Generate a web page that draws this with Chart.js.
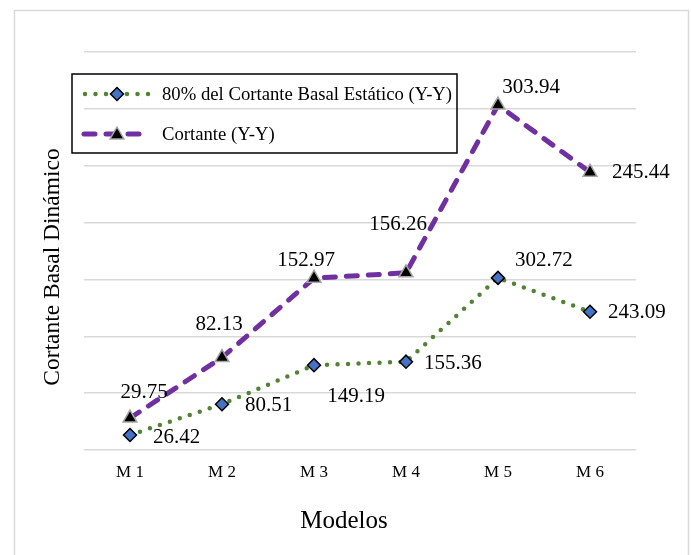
<!DOCTYPE html>
<html>
<head>
<meta charset="utf-8">
<script src="https://cdn.jsdelivr.net/npm/chart.js@4.4.0/dist/chart.umd.min.js"></script>
<style>
	body{margin:0;background:#fff;}
	#cortanteCanvas{display:block;}
</style>
</head>
<body>
<canvas id="cortanteCanvas" width="691" height="555"></canvas>
<script>
/* datos del grafico */
const modelos = ['M 1','M 2','M 3','M 4','M 5','M 6']
const estatico80 = [26.42, 80.51, 149.19, 155.36, 302.72, 243.09]
const cortanteYY = [29.75, 82.13, 152.97, 156.26, 303.94, 245.44]
const nombreSeries = ['80% del Cortante Basal Estático (Y-Y)', 'Cortante (Y-Y)']
const tituloX = 'Modelos'
const tituloY = 'Cortante Basal Dinámico'

/* posicion de etiquetas respecto al punto [dx, dy, align] */
const posVerde = [[23,3,'left'],[23,1,'left'],[42,31,'center'],[18,2,'left'],[17,-17,'left'],[18,1,'left']]
const posMorado = [[14,-26,'center'],[-3,-33,'center'],[-8,-18,'center'],[-8,-48,'center'],[33,-18,'center'],[22,0,'left']]

const fuente = '"Liberation Serif", "Times New Roman", serif'
const verde = '#548235'
const morado = '#7030A0'

function rombo(ctx, x, y, r){
	ctx.save()
	ctx.beginPath()
	ctx.moveTo(x, y-r)
	ctx.lineTo(x+r, y)
	ctx.lineTo(x, y+r)
	ctx.lineTo(x-r, y)
	ctx.closePath()
	ctx.fillStyle = '#4472C4'
	ctx.fill()
	ctx.lineWidth = 1.5
	ctx.strokeStyle = '#000'
	ctx.stroke()
	ctx.restore()
}

function triangulo(ctx, x, y, r){
	ctx.save()
	ctx.beginPath()
	ctx.moveTo(x, y-r)
	ctx.lineTo(x+r*0.866, y+r*0.5)
	ctx.lineTo(x-r*0.866, y+r*0.5)
	ctx.closePath()
	ctx.fillStyle = '#000'
	ctx.fill()
	ctx.lineWidth = 1.5
	ctx.strokeStyle = '#a6a6a6'
	ctx.stroke()
	ctx.restore()
}

/* fondo, titulos, leyenda y etiquetas */
const extras = {
	id : 'extras'
	,beforeDraw : function(chart){
		const ctx = chart.ctx
		ctx.save()
		ctx.fillStyle = '#fff'
		ctx.fillRect(0,0,chart.width,chart.height)
		ctx.strokeStyle = '#d9d9d9'
		ctx.lineWidth = 1.5
		ctx.strokeRect(14.5,10.5,674,560)
		ctx.restore()
	}
	,afterDatasetsDraw : function(chart){
		const ctx = chart.ctx
		ctx.save()
		ctx.fillStyle = '#000'
		ctx.textBaseline = 'middle'

		// etiquetas de datos
		ctx.font = '21px ' + fuente
		const listas = [[estatico80, posVerde],[cortanteYY, posMorado]]
		listas.forEach(function(l, d){
			const meta = chart.getDatasetMeta(d)
			meta.data.forEach(function(p, i){
				const pos = l[1][i]
				ctx.textAlign = pos[2]
				ctx.fillText(l[0][i].toFixed(2), p.x + pos[0], p.y + pos[1])
			})
		})

		// titulos de ejes
		ctx.textAlign = 'center'
		ctx.font = '25px ' + fuente
		ctx.fillText(tituloX, 344, 521)
		ctx.save()
		ctx.translate(53, 267)
		ctx.rotate(-Math.PI/2)
		ctx.font = '23.5px ' + fuente
		ctx.fillText(tituloY, 0, 0)
		ctx.restore()

		// leyenda
		ctx.lineWidth = 1.5
		ctx.strokeStyle = '#000'
		ctx.strokeRect(72,74,385,79)
		ctx.lineCap = 'round'
		ctx.strokeStyle = verde
		ctx.lineWidth = 4.5
		ctx.setLineDash([0,10.5])
		ctx.beginPath(); ctx.moveTo(85,94); ctx.lineTo(149,94); ctx.stroke()
		ctx.strokeStyle = morado
		ctx.lineWidth = 5
		ctx.setLineDash([11,11])
		ctx.beginPath(); ctx.moveTo(84,134); ctx.lineTo(150,134); ctx.stroke()
		ctx.setLineDash([])
		rombo(ctx,117,94,6.5)
		triangulo(ctx,117,135,8)
		ctx.textAlign = 'left'
		ctx.font = '18.7px ' + fuente
		ctx.fillText(nombreSeries[0], 162, 95)
		ctx.fillText(nombreSeries[1], 162, 135)
		ctx.restore()
	}
}

const cortanteChart = new Chart(document.getElementById('cortanteCanvas'),{
	type : 'line'
	,data : {
		labels : modelos
		,datasets : [
			{
				label : nombreSeries[0]
				,data : estatico80
				,borderColor : verde
				,borderWidth : 4.5
				,borderDash : [0,10.5]
				,borderCapStyle : 'round'
				,pointStyle : 'rectRot'
				,pointRadius : 6.5
				,pointBackgroundColor : '#4472C4'
				,pointBorderColor : '#000'
				,pointBorderWidth : 1.5
				,tension : 0
				,fill : false
			}
			,{
				label : nombreSeries[1]
				,data : cortanteYY
				,borderColor : morado
				,borderWidth : 5
				,borderDash : [11,11]
				,borderCapStyle : 'round'
				,pointStyle : 'triangle'
				,pointRadius : 8
				,pointBackgroundColor : '#000'
				,pointBorderColor : '#a6a6a6'
				,pointBorderWidth : 1.5
				,tension : 0
				,fill : false
			}
		]
	}
	,options : {
		responsive : false
		,animation : false
		,layout : { padding : { top : 52, right : 55, left : 0, bottom : 0 } }
		,plugins : {
			legend : { display : false }
			,tooltip : { enabled : false }
		}
		,scales : {
			x : {
				offset : true
				,grid : { display : false, drawTicks : false }
				,border : { display : false }
				,ticks : {
					color : '#000'
					,padding : 12
					,font : { family : fuente, size : 17 }
				}
				,afterFit : function(scale){ scale.height = 105 }
			}
			,y : {
				stacked : true
				,min : 0
				,max : 700
				,ticks : { display : false, stepSize : 100 }
				,grid : { color : '#d9d9d9', lineWidth : 1.5, drawTicks : false }
				,border : { display : false }
				,afterFit : function(scale){ scale.width = 84 }
			}
		}
	}
	,plugins : [extras]
})
</script>
</body>
</html>
